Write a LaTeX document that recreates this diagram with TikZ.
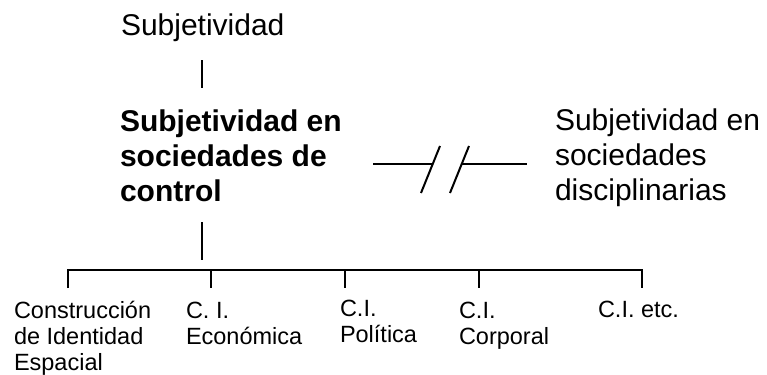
\documentclass[tikz,border=0pt]{standalone}
\usepackage{fontspec}
\setmainfont{Liberation Sans}

\begin{document}
\begin{tikzpicture}[x=0.5pt,y=-0.5pt,line width=1pt,
  every node/.style={inner sep=0pt,anchor=base west,align=left},
  big/.style={font=\fontsize{15}{17.5}\selectfont},
  small/.style={font=\fontsize{11.75}{13}\selectfont}]
\useasboundingbox (0,0) rectangle (767,375);
% multi-line nodes sit on their last baseline
\node[big] (S) at (120,35) {Subjetividad};
\node[big] (SC) at (119,201) {\textbf{Subjetividad en}\\\textbf{sociedades de}\\\textbf{control}};
\node[big] (SD) at (554,200) {Subjetividad en\\sociedades\\disciplinarias};
\node[small] (c1) at (13,370) {Construcción\\de Identidad\\Espacial};
\node[small] (c2) at (185,344) {C. I.\\Económica};
\node[small] (c3) at (339,342) {C.I.\\Política};
\node[small] (c4) at (458,344) {C.I.\\Corporal};
\node[small] (c5) at (597,317) {C.I. etc.};
% stubs
\draw (202,60) -- (202,88);
\draw (202,222) -- (202,260);
\draw (68,288) -- (68,270) -- (642,270) -- (642,288);
\foreach \x in {211,345,479}
  \draw (\x,270) -- (\x,288);
% broken relation
\draw (373,164) -- (433,164);
\draw (462,164) -- (527,164);
\draw (421,193) -- (440,146);
\draw (450,193) -- (469,146);
\end{tikzpicture}
\end{document}
